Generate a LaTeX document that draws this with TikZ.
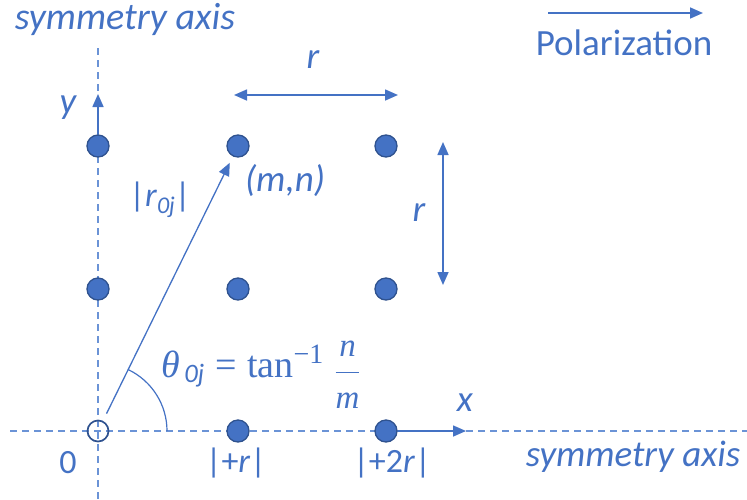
\RequirePackage{fix-cm}
\documentclass[tikz,border=0pt]{standalone}
\usepackage{amsmath}
\usepackage[no-math]{fontspec}
\setmainfont{Carlito}
\newfontfamily\lser{Liberation Serif}
\usetikzlibrary{arrows.meta}
\definecolor{cblue}{HTML}{4472C4}
\definecolor{cdark}{HTML}{2F528F}
\definecolor{caxis}{HTML}{6B93D6}
\tikzset{
  dot/.style={circle,fill=cblue,draw=cdark,line width=1.3pt,minimum size=22pt,inner sep=0pt},
  hollow/.style={circle,draw=cdark,line width=1.7pt,minimum size=21pt,inner sep=0pt},
  axisline/.style={caxis,line width=1.4pt,dash pattern=on 7pt off 5pt},
  arr/.style={cblue,line width=1.6pt,-{Triangle[length=13pt,width=11pt]}},
  darr/.style={cblue,line width=1.6pt,{Triangle[length=13pt,width=11pt]}-{Triangle[length=13pt,width=11pt]}},
  thin/.style={cblue,line width=1.2pt},
  lbl/.style={text=cblue,inner sep=0pt,font=\fontsize{37}{42}\selectfont\itshape},
  ulbl/.style={text=cblue,inner sep=0pt,font=\fontsize{34}{40}\selectfont},
}
\newcommand{\fracpart}[1]{\text{\fontsize{33}{35}\selectfont\lser\itshape #1}}
\begin{document}
\begin{tikzpicture}[x=1pt,y=-1pt]
\useasboundingbox (0,0) rectangle (747,499);
% axes
\coordinate (vtop) at (98,48);
\coordinate (vbot) at (98,499);
\coordinate (hl) at (10,431);
\coordinate (hr) at (747,431);
\draw[axisline] (vtop) -- (vbot);
\draw[axisline] (hl) -- (hr);
% dots
\node[hollow] (o) at (98,431) {};
\node[dot] (d10) at (238,431) {};
\node[dot] (d20) at (386,431) {};
\node[dot] (d01) at (98,289) {};
\node[dot] (d11) at (238,289) {};
\node[dot] (d21) at (386,289) {};
\node[dot] (d02) at (98,146) {};
\node[dot] (d12) at (238,146) {};
\node[dot] (d22) at (386,146) {};
% axis arrows
\coordinate (ytip) at (98,94);
\coordinate (xtip) at (466,431);
\draw[arr] (d02) -- (ytip);
\draw[arr] (d20) -- (xtip);
% vector
\draw[arr,line width=1.3pt,shorten <=8pt,shorten >=7pt] (o) -- (d12);
% angle arc
\draw[thin] (167,431) arc[start angle=0,end angle=-64.5,radius=68];
% r arrows
\coordinate (ra) at (234,95);
\coordinate (rb) at (398,95);
\draw[darr] (ra) -- (rb);
\coordinate (va) at (443,142);
\coordinate (vb) at (443,285);
\draw[darr] (va) -- (vb);
% polarization
\coordinate (pa) at (548,13);
\coordinate (pb) at (703,13);
\draw[arr] (pa) -- (pb);
\node[ulbl,font=\fontsize{37}{42}\selectfont] (pol) at (624,43) {Polarization};
% labels
\node[lbl,font=\fontsize{38}{42}\selectfont\itshape] (sa1) at (125,19) {symmetry axis};
\node[lbl,font=\fontsize{37}{42}\selectfont\itshape] (sa2) at (633,457) {symmetry axis};
\node[lbl] (ly) at (68,108) {y};
\node[lbl] (lx) at (465,403) {x};
\node[lbl] (lr1) at (313,60) {r};
\node[lbl] (lr2) at (419,213) {r};
\node[lbl] (mn) at (285,181) {(m,n)};
\node[ulbl] (l0) at (68,463) {0};
\node[ulbl] (l1) at (236,463) {|+\textit{r}|};
\node[ulbl] (l2) at (392,463) {|+2\textit{r}|};
\node[ulbl] (r0j) at (160,200) {|\textit{r}\raisebox{-7pt}{\fontsize{24}{28}\selectfont\itshape 0j}|};
\node[text=cblue,inner sep=0pt,anchor=base west,font=\fontsize{38}{42}\selectfont] (th) at (161,377)
  {$\text{\lser\itshape θ}_{\text{\itshape\,0j}}\mathrel{\text{\lser =}}\text{\lser tan}^{\text{\fontsize{28}{30}\selectfont\lser −1}}\;\raisebox{-5pt}{$\dfrac{\fracpart{n}}{\fracpart{m}}$}$};
\end{tikzpicture}
\end{document}
